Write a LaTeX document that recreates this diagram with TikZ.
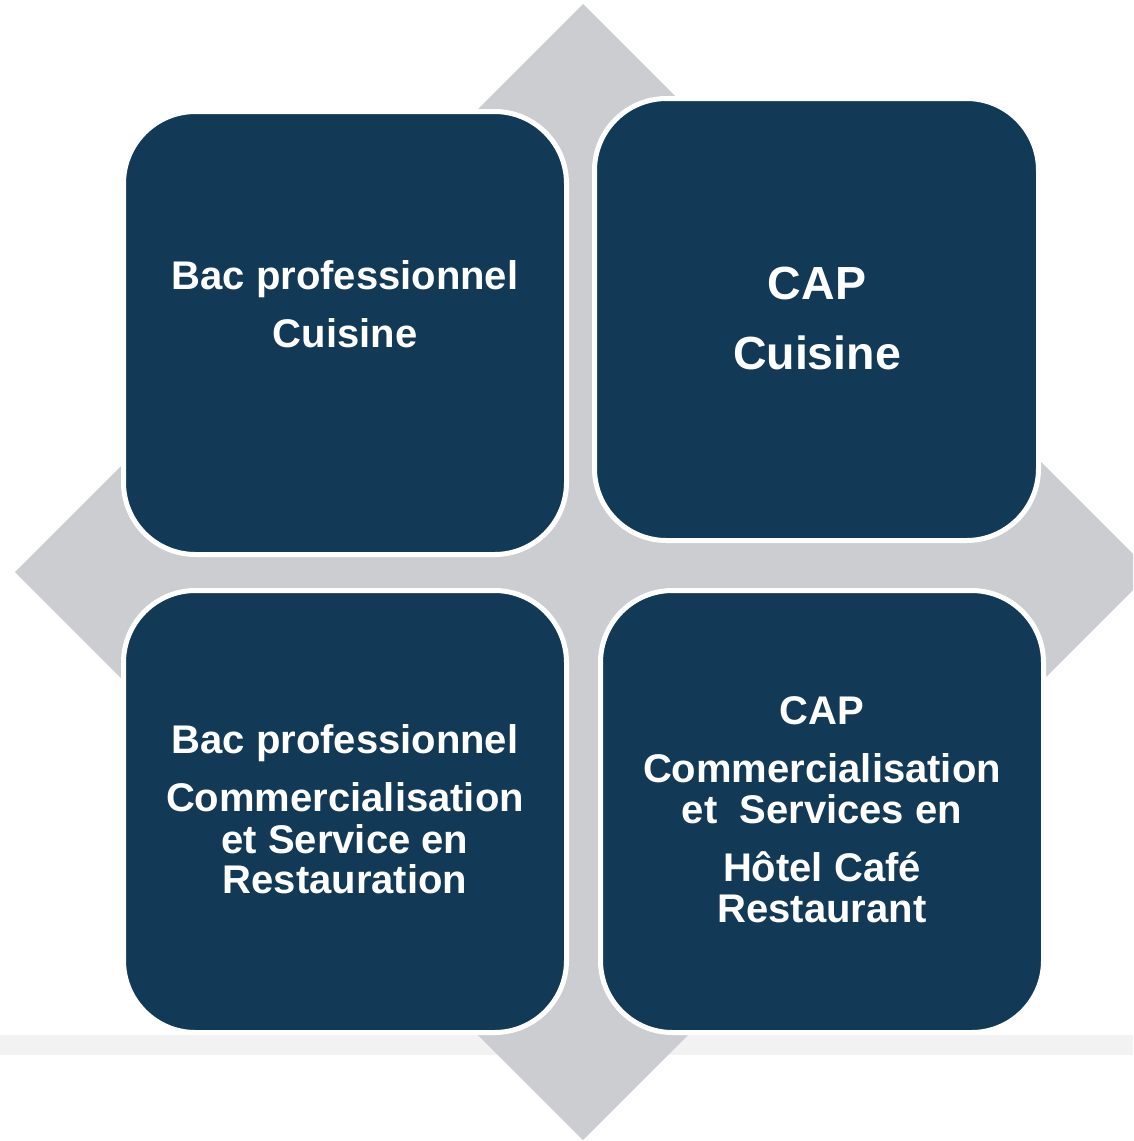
\documentclass[tikz,border=0pt]{standalone}
\usepackage{fontspec}
\setmainfont{Liberation Sans}
\definecolor{navy}{RGB}{18,57,86}
\definecolor{diamondgray}{RGB}{204,205,209}
\definecolor{bandgray}{RGB}{242,242,242}
\begin{document}
\begin{tikzpicture}[x=1pt,y=-1pt,
  tile/.style={fill=navy,draw=white,line width=5pt,rounded corners=72pt},
  small/.style={text=white,inner sep=0pt,anchor=base,font=\fontsize{40}{46}\selectfont\bfseries},
  big/.style={text=white,inner sep=0pt,anchor=base,font=\fontsize{46.5}{52}\selectfont\bfseries}]
\useasboundingbox (0,0) rectangle (1133,1141);
\clip (0,0) rectangle (1133,1141);
% light band
\fill[bandgray] (0,1035) rectangle (1133,1055);
% diamond
\fill[diamondgray] (583,4) -- (1151,572) -- (583,1140) -- (15,572) -- cycle;
% tiles
\draw[tile] (123.5,111.5) rectangle (566.5,554.5);
\draw[tile] (594.5,98.5) rectangle (1038.5,540.5);
\draw[tile] (123.5,590.5) rectangle (566.5,1032.5);
\draw[tile] (600.5,590.5) rectangle (1043.5,1032.5);
% texts top-left
\node[small] (tl1) at (345,289) {Bac professionnel};
\node[small] (tl2) at (345,347) {Cuisine};
% top-right
\node[big] (tr1) at (817,299) {CAP};
\node[big] (tr2) at (817,369) {Cuisine};
% bottom-left
\node[small] (bl1) at (345,753) {Bac professionnel};
\node[small] (bl2) at (345,811) {Commercialisation};
\node[small] (bl3) at (345,853) {et Service en};
\node[small] (bl4) at (345,893) {Restauration};
% bottom-right
\node[small] (br1) at (822,724) {CAP};
\node[small] (br2) at (822,782) {Commercialisation};
\node[small] (br3) at (822,823) {et\ \ Services en};
\node[small] (br4) at (822,881) {Hôtel Café};
\node[small] (br5) at (822,922) {Restaurant};
\end{tikzpicture}
\end{document}
